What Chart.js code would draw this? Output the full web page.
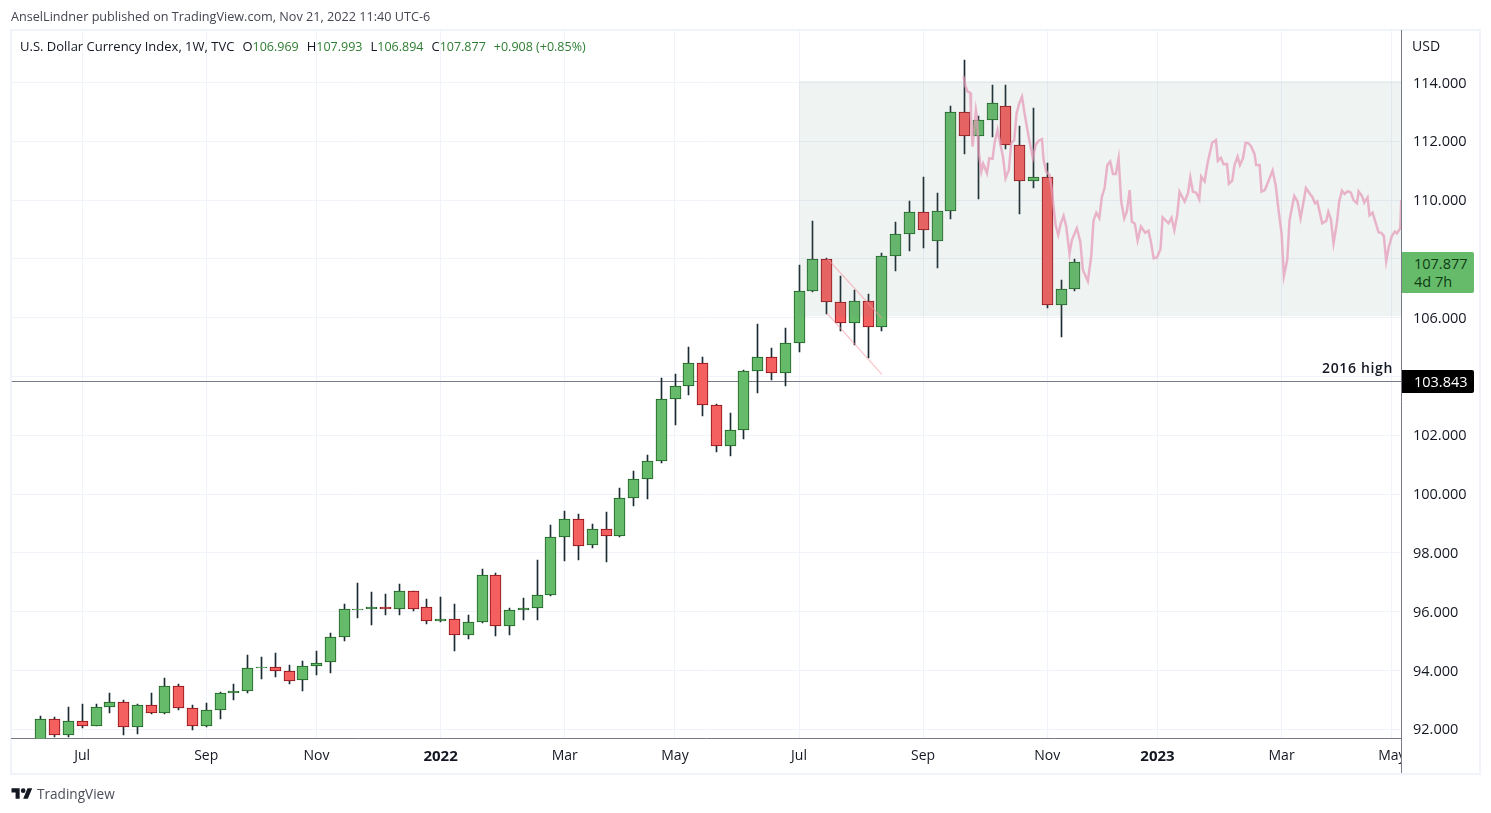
<!DOCTYPE html>
<html>
<head>
<meta charset="utf-8">
<title>U.S. Dollar Currency Index</title>
<script src="https://cdn.jsdelivr.net/npm/chart.js@4"></script>
<style>
    html, body { margin: 0; padding: 0; background: #fff; }
    body { width: 1491px; height: 813px; position: relative; overflow: hidden; font-family: "Open Sans", sans-serif; color: #131722; }
    canvas { position: absolute; left: 0; top: 0; }
    .frame { position: absolute; left: 10px; top: 29px; width: 1467px; height: 742px; border: 2px solid #f0f3fa; }
    .txt { position: absolute; white-space: nowrap; z-index: 2; }
    .published { left: 11px; top: 8px; font-size: 12.65px; line-height: 16px; color: #434651; }
    .legend { left: 20px; top: 38px; font-size: 13px; line-height: 16px; }
    .legend span { color: #2e7d32; font-size: 12.5px; }
    .legend b { font-weight: 400; margin-left: 8px; }
    .usd { left: 1412px; top: 37px; font-size: 14px; line-height: 18px; color: #131722; }
    .tag { position: absolute; left: 1402px; width: 72px; z-index: 2; box-sizing: border-box; padding-left: 12px; font-size: 14.5px; border-radius: 0 2px 2px 0; }
    .tag-last { top: 252px; height: 41px; background: #66bb6a; color: #0f3d14; line-height: 18px; padding-top: 3px; }
    .tag-line { top: 370px; height: 23px; background: #000; color: #fff; line-height: 23px; }
    .note { left: 1322px; top: 359px; font-size: 14px; line-height: 18px; font-weight: 600; letter-spacing: .65px; color: #131722; }
    .brand { left: 37px; top: 785px; font-size: 13.6px; line-height: 18px; color: #4a4e59; }
    .logo { position: absolute; left: 11px; top: 786px; z-index: 2; }
</style>
</head>
<body>
<div class="frame"></div>
<canvas id="chart" width="1491" height="813"></canvas>
<div class="txt published">AnselLindner published on TradingView.com, Nov 21, 2022 11:40 UTC-6</div>
<div class="txt legend">U.S. Dollar Currency Index, 1W, TVC<b>O</b><span>106.969</span><b>H</b><span>107.993</span><b>L</b><span>106.894</span><b>C</b><span>107.877</span><b><span>+0.908 (+0.85%)</span></b></div>
<div class="txt usd">USD</div>
<div class="tag tag-last">107.877<br>4d 7h</div>
<div class="tag tag-line">103.843</div>
<div class="txt note">2016 high</div>
<svg class="logo" width="22" height="14" viewBox="0 0 36 24"><path fill="#131722" d="M14 22H7V11H0V4h14v18zM28 22h-8l7.5-18h8L28 22z"/><circle fill="#131722" cx="20" cy="8" r="4"/></svg>
<div class="txt brand">TradingView</div>

<script>
// weekly candles, counted in weeks from the first one on the chart
const opens = [91.6, 92.34, 91.82, 92.27, 92.12, 92.75, 92.92, 92.09, 92.81, 92.54, 93.46, 92.71, 92.12, 92.65, 93.25, 93.29, 94.07, 94.11, 93.97, 93.67, 94.14, 94.28, 95.13, 96.07, 96.08, 96.15, 96.08, 96.69, 96.15, 95.67, 95.74, 95.20, 95.64, 97.24, 95.50, 96.05, 96.11, 96.56, 98.53, 99.14, 98.26, 98.80, 98.56, 99.86, 100.50, 101.11, 103.22, 103.67, 104.45, 103.02, 101.62, 102.17, 104.18, 104.65, 104.11, 105.13, 106.90, 107.99, 106.52, 105.81, 106.56, 105.67, 108.09, 108.84, 109.58, 108.60, 109.62, 112.99, 112.17, 112.71, 113.19, 111.86, 110.64, 110.77, 106.42, 106.969];
const highs = [92.45, 92.41, 92.76, 92.86, 92.85, 93.23, 92.98, 92.85, 93.23, 93.74, 93.54, 92.81, 92.89, 93.26, 93.54, 94.53, 94.46, 94.60, 94.19, 94.32, 94.66, 95.26, 96.25, 96.96, 96.66, 96.60, 96.93, 96.70, 96.42, 96.49, 96.26, 95.89, 97.45, 97.30, 96.13, 96.47, 97.76, 98.95, 99.43, 99.32, 98.98, 99.39, 100.21, 100.79, 101.33, 103.95, 104.09, 105.00, 104.66, 103.06, 102.76, 104.22, 105.79, 104.97, 105.65, 107.79, 109.29, 108.03, 107.42, 106.94, 106.81, 108.19, 109.26, 109.97, 110.79, 110.24, 113.20, 114.77, 112.86, 113.92, 113.92, 112.52, 113.13, 111.25, 107.28, 107.993];
const lows = [91.5, 91.73, 91.75, 92.06, 92.10, 92.57, 91.82, 91.85, 92.52, 92.53, 92.67, 91.99, 92.09, 92.36, 92.99, 93.24, 93.72, 93.79, 93.55, 93.31, 93.86, 93.93, 95.01, 95.80, 95.56, 95.90, 95.90, 96.03, 95.59, 95.66, 94.67, 95.08, 95.63, 95.18, 95.22, 95.72, 95.72, 96.55, 97.74, 97.76, 98.17, 97.70, 98.55, 99.60, 99.83, 101.06, 102.35, 103.37, 102.66, 101.43, 101.30, 101.87, 103.44, 103.88, 103.69, 104.84, 106.89, 106.14, 105.56, 105.08, 104.64, 105.56, 107.60, 108.28, 108.38, 107.70, 109.37, 111.58, 110.05, 112.16, 111.72, 109.54, 110.42, 106.32, 105.35, 106.894];
const closes = [92.34, 91.82, 92.27, 92.12, 92.75, 92.92, 92.09, 92.81, 92.54, 93.46, 92.71, 92.12, 92.65, 93.25, 93.29, 94.07, 94.11, 93.97, 93.63, 94.14, 94.24, 95.13, 96.08, 96.09, 96.15, 96.08, 96.69, 96.08, 95.67, 95.74, 95.20, 95.64, 97.24, 95.50, 96.05, 96.11, 96.56, 98.53, 99.14, 98.22, 98.80, 98.56, 99.86, 100.50, 101.11, 103.22, 103.67, 104.45, 103.02, 101.62, 102.17, 104.18, 104.65, 104.11, 105.13, 106.90, 107.99, 106.52, 105.81, 106.56, 105.67, 108.09, 108.84, 109.58, 108.97, 109.62, 112.99, 112.17, 112.71, 113.29, 111.86, 110.64, 110.77, 106.42, 106.96, 107.877];

// the pink projected path, drawn over the candles
const pathWeeks = [66.93, 67.08, 67.22, 67.42, 67.47, 67.59, 67.66, 67.83, 67.90, 68.02, 68.22, 68.36, 68.63, 68.80, 69.04, 69.18, 69.40, 69.59, 69.79, 69.98, 70.22, 70.39, 70.61, 70.78, 70.97, 71.17, 71.36, 71.65, 71.96, 72.16, 72.38, 72.62, 72.74, 72.93, 73.17, 73.34, 73.46, 73.61, 73.80, 73.99, 74.19, 74.38, 74.62, 74.79, 75.15, 75.40, 75.59, 75.95, 76.19, 76.36, 76.56, 76.78, 76.97, 77.16, 77.36, 77.57, 77.77, 77.98, 78.18, 78.37, 78.59, 78.78, 78.98, 79.14, 79.36, 79.56, 79.80, 80.11, 80.35, 80.52, 80.72, 80.96, 81.22, 81.37, 81.61, 81.80, 82.02, 82.22, 82.43, 82.60, 82.97, 83.21, 83.38, 83.57, 83.81, 84.03, 84.17, 84.42, 84.63, 84.97, 85.24, 85.38, 85.60, 85.79, 86.04, 86.18, 86.42, 86.59, 86.81, 86.98, 87.20, 87.39, 87.61, 87.80, 88.04, 88.16, 88.41, 88.55, 88.79, 89.35, 89.59, 89.78, 90.00, 90.17, 90.41, 90.58, 90.92, 91.16, 91.38, 91.77, 92.03, 92.25, 92.42, 92.59, 92.95, 93.24, 93.39, 93.58, 93.77, 94.01, 94.18, 94.38, 94.57, 94.81, 95.03, 95.22, 95.47, 95.59, 95.83, 96.00, 96.24, 96.38, 96.60, 97.04, 97.23, 97.42, 97.59, 97.79, 98.00, 98.22, 98.37, 98.61, 98.68];
const pathPrices = [114.20, 113.86, 113.69, 113.65, 112.84, 111.82, 112.16, 113.06, 112.84, 111.70, 110.97, 111.23, 110.91, 111.42, 111.40, 111.93, 112.38, 111.93, 111.48, 110.74, 111.02, 111.93, 112.04, 112.95, 113.29, 113.52, 112.95, 112.16, 111.42, 111.87, 112.02, 112.07, 111.36, 110.97, 110.85, 110.34, 109.78, 109.15, 108.81, 109.21, 109.46, 109.10, 108.17, 108.64, 109.04, 108.59, 107.62, 107.24, 108.08, 109.30, 109.57, 109.39, 110.12, 110.40, 111.19, 111.31, 110.89, 110.89, 111.42, 109.95, 109.38, 109.61, 110.34, 109.27, 109.19, 108.62, 109.10, 108.89, 108.96, 108.59, 108.02, 108.05, 108.34, 109.41, 109.30, 109.21, 109.40, 108.98, 109.49, 110.28, 109.95, 110.23, 110.77, 110.28, 110.25, 110.03, 110.80, 110.63, 111.25, 111.95, 112.04, 111.33, 111.44, 111.22, 111.23, 110.55, 110.66, 111.19, 111.48, 111.19, 111.42, 111.95, 111.93, 111.82, 111.56, 111.19, 111.19, 110.29, 110.34, 111.00, 110.46, 109.66, 108.87, 107.42, 107.96, 109.32, 110.14, 109.95, 109.38, 110.41, 110.23, 110.09, 109.89, 109.95, 109.21, 109.29, 109.60, 109.35, 108.53, 109.21, 109.95, 110.32, 110.21, 110.30, 110.25, 110.00, 109.89, 110.29, 110.14, 109.91, 110.09, 109.48, 109.57, 108.90, 108.89, 108.78, 107.92, 108.42, 108.78, 108.93, 108.87, 109.04, 110.00];

// the falling channel, the box and the 2016 high
const channelWeeks = [57.03, 61.01];
const channelUpper = [108.02, 105.98];
const channelLower = [106.15, 104.07];
const boxWeeks = [55, 98.7];
const boxTop = [114.05, 114.05];
const boxBottom = 106.05;
const lineWeeks = [-2.125, 98.7];
const lineLevel = [103.843, 103.843];

const xTickWeeks = [3, 12, 20, 29, 38, 46, 55, 64, 73, 81, 90, 98];
const xTickLabels = ['Jul', 'Sep', 'Nov', '2022', 'Mar', 'May', 'Jul', 'Sep', 'Nov', '2023', 'Mar', 'May'];
const yearTicks = [29, 81];
const yTickValues = [92, 94, 96, 98, 100, 102, 104, 106, 108, 110, 112, 114];
const yTickLabels = ['92.000', '94.000', '96.000', '98.000', '100.000', '102.000', '', '106.000', '', '110.000', '112.000', '114.000'];

const axisColor = '#787b86';
const gridColor = '#f0f3fa';
const zip = (xs, ys) => xs.map((x, i) => ({ x: x, y: ys[i] }));

const wickData = highs.map((h, i) => ({ x: i, y: [lows[i], h] }));
const bodyData = opens.map((o, i) => ({ x: i, y: [o, closes[i]] }));
const bodyFill = opens.map((o, i) => closes[i] >= o ? '#66bb6a' : '#f45f5f');
const bodyEdge = opens.map((o, i) => closes[i] >= o ? '#1b5e20' : '#880e12');

// candles and the level line sit on whole pixels, otherwise they blur
const crispMarks = {
    id: 'crispMarks',
    afterDatasetsUpdate(chart) {
        chart.getSortedVisibleDatasetMetas().forEach(meta => {
            if (meta.type === 'bar') {
                meta.data.forEach(el => {
                    el.x = Math.floor(el.x + 0.1) + 0.5;
                    el.y = Math.round(el.y);
                    el.base = Math.round(el.base);
                });
            } else if (meta.controller.getDataset().crisp) {
                meta.data.forEach(el => { el.y = Math.floor(el.y) + 0.5; });
            }
        });
    }
};

// May runs into the price scale, so cover it and redraw the scale line
const priceScaleEdge = {
    id: 'priceScaleEdge',
    afterDraw(chart) {
        const ctx = chart.ctx;
        const right = chart.chartArea.right;
        ctx.save();
        ctx.fillStyle = '#fff';
        ctx.fillRect(right, chart.chartArea.bottom + 1, 40, 33);
        ctx.strokeStyle = axisColor;
        ctx.lineWidth = 1;
        ctx.beginPath();
        ctx.moveTo(right, 30);
        ctx.lineTo(right, 773);
        ctx.stroke();
        ctx.restore();
    }
};

new Chart(document.getElementById('chart').getContext('2d'), {
    type: 'bar',
    data: {
        datasets: [
            {
                type: 'line',
                data: zip(lineWeeks, lineLevel),
                borderColor: axisColor,
                borderWidth: 1,
                pointRadius: 0,
                crisp: true,
                order: 6
            },
            {
                data: wickData,
                backgroundColor: '#1c2b33',
                barThickness: 1,
                grouped: false,
                order: 5
            },
            {
                data: bodyData,
                backgroundColor: bodyFill,
                borderColor: bodyEdge,
                borderWidth: 1,
                borderSkipped: false,
                barThickness: 11,
                grouped: false,
                order: 4
            },
            {
                type: 'line',
                data: zip(boxWeeks, boxTop),
                borderWidth: 0,
                pointRadius: 0,
                fill: { value: boxBottom },
                backgroundColor: 'rgba(95, 135, 125, 0.1)',
                order: 3
            },
            {
                type: 'line',
                data: zip(channelWeeks, channelUpper),
                borderColor: 'rgba(245, 150, 160, 0.55)',
                borderWidth: 1.2,
                pointRadius: 0,
                order: 2
            },
            {
                type: 'line',
                data: zip(channelWeeks, channelLower),
                borderColor: 'rgba(245, 150, 160, 0.55)',
                borderWidth: 1.2,
                pointRadius: 0,
                order: 2
            },
            {
                type: 'line',
                data: zip(pathWeeks, pathPrices),
                borderColor: 'rgba(230, 155, 185, 0.72)',
                borderWidth: 2.5,
                pointRadius: 0,
                order: 1
            }
        ]
    },
    options: {
        responsive: false,
        animation: false,
        layout: { padding: { left: 11.5, top: 31, right: 0, bottom: 0 } },
        plugins: { legend: { display: false }, tooltip: { enabled: false } },
        scales: {
            x: {
                type: 'linear',
                min: -2.125,
                max: 98.7,
                offset: false,
                afterBuildTicks: axis => { axis.ticks = xTickWeeks.map(v => ({ value: v })); },
                afterFit: axis => { axis.height = 74.5; },
                border: { color: axisColor, width: 1 },
                grid: { color: gridColor, drawTicks: false, offset: false },
                ticks: {
                    autoSkip: false,
                    maxRotation: 0,
                    padding: 9,
                    color: '#131722',
                    font: ctx => {
                        const isYear = ctx.tick && yearTicks.includes(ctx.tick.value);
                        return { family: '"Open Sans"', size: isYear ? 15 : 14, weight: isYear ? 'bold' : 'normal' };
                    },
                    callback: value => xTickLabels[xTickWeeks.indexOf(value)]
                }
            },
            y: {
                type: 'linear',
                position: 'right',
                min: 91.687,
                max: 115.75,
                afterBuildTicks: axis => { axis.ticks = yTickValues.map(v => ({ value: v })); },
                afterFit: axis => { axis.width = 89.5; },
                border: { display: false },
                grid: { color: gridColor, drawTicks: false },
                ticks: {
                    padding: 11.5,
                    labelOffset: 1,
                    color: '#131722',
                    font: { family: '"Open Sans"', size: 14.5 },
                    callback: value => yTickLabels[yTickValues.indexOf(value)]
                }
            }
        }
    },
    plugins: [crispMarks, priceScaleEdge]
});
</script>
</body>
</html>
